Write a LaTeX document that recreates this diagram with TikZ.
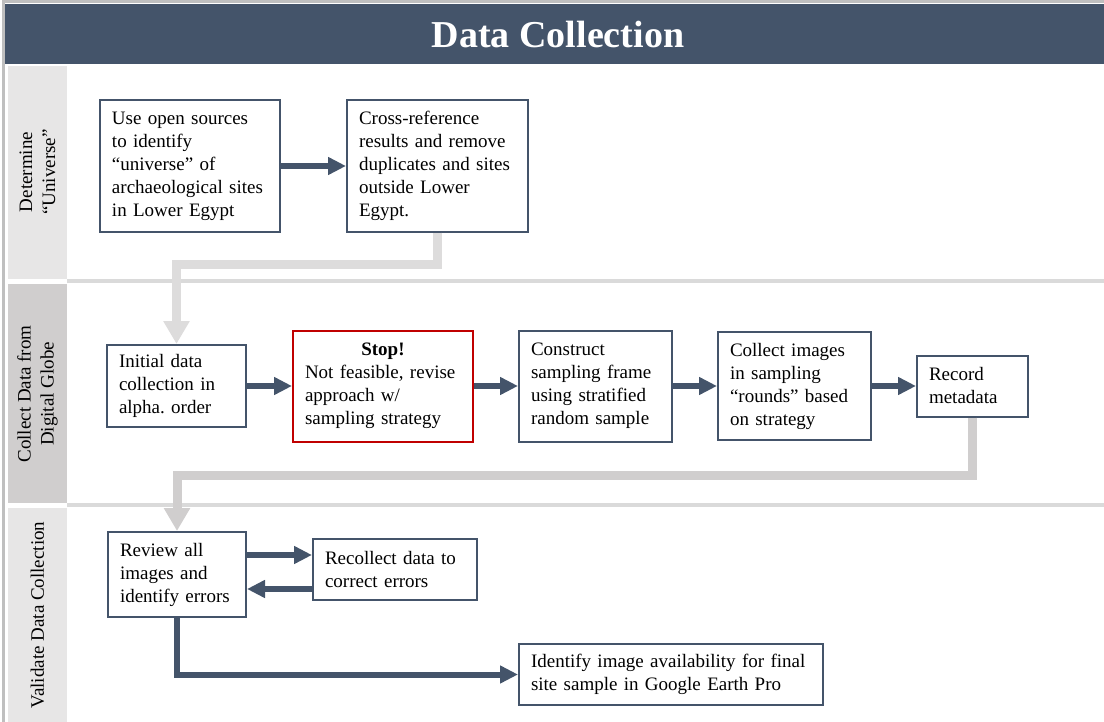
\documentclass[tikz,border=0pt]{standalone}
\usepackage{fontspec}
\setmainfont{Liberation Serif}
\usetikzlibrary{positioning,arrows.meta,calc}
\definecolor{slateink}{HTML}{44546A}
\definecolor{stopred}{HTML}{C00000}
\definecolor{lanelight}{HTML}{E7E6E6}
\definecolor{lanemid}{HTML}{D0CECE}
\definecolor{rulegray}{HTML}{DADADA}
\definecolor{framegray}{HTML}{BFBFBF}
\newcommand{\bodyfont}{\fontsize{9.5}{11.5}\selectfont\frenchspacing}

\begin{document}
\begin{tikzpicture}[x=0.5pt,y=-0.5pt,
  stepbox/.style={draw=slateink, line width=1pt, fill=white, inner xsep=6pt, inner ysep=0pt, align=left, font=\bodyfont},
  flow/.style={draw=slateink, line width=3pt, -{Triangle[length=9pt,width=8.5pt]}},
  feed/.style={line width=4.5pt, -{Triangle[length=11.5pt,width=12.5pt]}},
  lanetag/.style={rotate=90, align=center, font=\bodyfont}]
\useasboundingbox (0,0) rectangle (1104,722);
% frame and header
\draw[framegray, line width=1.5pt] (3,722) -- (3,1.5) -- (1104,1.5);
\fill[slateink] (5,4) rectangle (1104,64);
\node[text=white, font=\fontsize{19}{23}\selectfont\bfseries] (title) at (558,35) {Data Collection};
% swimlanes
\fill[lanelight] (8,66) rectangle (67,279);
\fill[lanemid] (8,284) rectangle (67,503);
\fill[lanelight] (8,508) rectangle (67,722);
\draw[rulegray, line width=2pt] (67,281) -- (1104,281);
\draw[rulegray, line width=2pt] (67,505) -- (1104,505);
\node[lanetag] (laneA) at (37.5,172) {Determine\\“Universe”};
\node[lanetag] (laneB) at (37.5,394) {Collect Data from\\Digital Globe};
\node[lanetag] (laneC) at (37.5,615) {Validate Data Collection};

% determine universe
\node[stepbox, text width=78pt, minimum height=65.5pt] (opensrc) at (190,166) {Use open sources\\to identify\\“universe” of\\archaeological sites\\in Lower Egypt};
\node[stepbox, text width=78.5pt, minimum height=65.5pt] (crossref) at (437.5,166) {Cross-reference\\results and remove\\duplicates and sites\\outside Lower\\Egypt.};
\draw[flow] (opensrc.east) -- (crossref.west);

% collect data
\node[stepbox, text width=57.5pt, minimum height=41pt] (initial) at (176.5,386) {Initial data\\collection in\\alpha. order};
\node[stepbox, draw=stopred, text width=78pt, minimum height=55.5pt] (stop) at (383,386) {\makebox[\hsize]{\bfseries Stop!}\\Not feasible, revise\\approach w/\\sampling strategy};
\node[stepbox, text width=64.5pt, minimum height=55.5pt] (frame) at (595.5,386) {Construct\\sampling frame\\using stratified\\random sample};
\node[stepbox, text width=64.5pt, minimum height=54pt] (rounds) at (794.5,386) {Collect images\\in sampling\\“rounds” based\\on strategy};
\node[stepbox, text width=43.5pt, minimum height=30.5pt] (meta) at (972.5,386) {Record\\metadata};
\draw[flow] (initial.east) -- (stop.west);
\draw[flow] (stop.east) -- (frame.west);
\draw[flow] (frame.east) -- (rounds.west);
\draw[flow] (rounds.east) -- (meta.west);

% validate
\node[stepbox, text width=57pt, minimum height=42.5pt] (review) at (177,574.5) {Review all\\images and\\identify errors};
\node[stepbox, text width=70pt, minimum height=30.5pt] (recollect) at (395,569.5) {Recollect data to\\correct errors};
\node[stepbox, text width=140pt, minimum height=30.5pt] (final) at (671,674.5) {Identify image availability for final\\site sample in Google Earth Pro};
\coordinate (upper) at (0,555);
\coordinate (lower) at (0,589);
\draw[flow] (review.east |- upper) -- (recollect.west |- upper);
\draw[flow] (recollect.west |- lower) -- (review.east |- lower);
\draw[flow] (review.south) |- (final.west);

% lane hand-offs
\coordinate (bendA) at (0,264);
\coordinate (bendB) at (0,475);
\draw[feed, draw=lanelight!90!gray] (crossref.south) -- (crossref.south |- bendA) -| (initial.north);
\draw[feed, draw=lanemid] (meta.south) -- (meta.south |- bendB) -| (review.north);
\end{tikzpicture}
\end{document}
